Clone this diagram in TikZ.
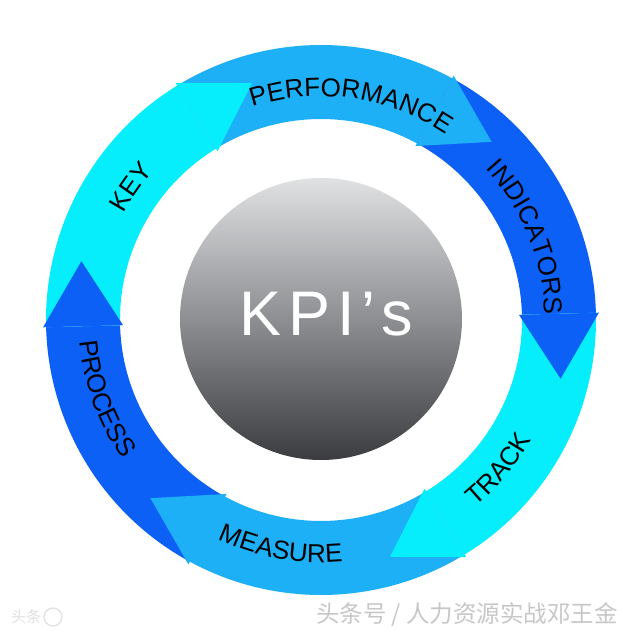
\documentclass[tikz,border=0pt]{standalone}
\usepackage{fontspec}
\setmainfont{Liberation Sans}
\newfontfamily\cjkfont{Noto Sans CJK SC}
\usetikzlibrary{decorations.text,calc}
\definecolor{dkblue}{HTML}{0C60F5}
\definecolor{mdblue}{HTML}{1EB0F6}
\definecolor{cyanb}{HTML}{06EEFB}
\newcommand\lblfont{\fontsize{26pt}{26pt}\selectfont}
\newcommand\ringbody[3]{\fill[#3] (#1:275pt) arc[start angle=#1, end angle=#2, radius=275pt] -- (#2:201pt) arc[start angle=#2, end angle=#1, radius=201pt] -- cycle;}
\newcommand\ringhead[2]{\fill[#2] (#1:198pt) -- (#1:278pt) -- ($(#1:238pt)+(#1-90:65pt)$) -- cycle;}
\newcommand\toplabel[2]{\path[decorate, decoration={text along path, text={|\lblfont|#2}, text align=center}] (#1+40:223.7pt) arc[start angle=#1+40, end angle=#1-40, radius=223.7pt];}
\newcommand\botlabel[2]{\path[decorate, decoration={text along path, text={|\lblfont|#2}, text align=center}] (#1-40:242.3pt) arc[start angle=#1-40, end angle=#1+40, radius=242.3pt];}
\begin{document}
\begin{tikzpicture}[x=1pt,y=1pt]
\useasboundingbox (-321,-320) rectangle (319,320);
\fill[white] (-321,-320) rectangle (319,320);
% ring bodies
\ringbody{241.5}{181.5}{dkblue}
\ringbody{181.5}{121.5}{cyanb}
\ringbody{121.5}{61.5}{mdblue}
\ringbody{61.5}{1.5}{dkblue}
\ringbody{1.5}{-58.5}{cyanb}
\ringbody{-58.5}{-118.5}{mdblue}
% arrow heads
\ringhead{181.5}{dkblue}
\ringhead{121.5}{cyanb}
\ringhead{61.5}{mdblue}
\ringhead{1.5}{dkblue}
\ringhead{-58.5}{cyanb}
\ringhead{-118.5}{mdblue}
% labels
\toplabel{145}{KEY}
\toplabel{82}{PERFORMANCE}
\toplabel{22}{INDICATORS}
\botlabel{-40}{TRACK}
\botlabel{-100}{MEASURE}
\botlabel{200}{PROCESS}
% hub
\node[circle, minimum size=282pt, inner sep=0pt, top color={rgb,255:red,224;green,225;blue,227}, middle color={rgb,255:red,148;green,150;blue,153}, bottom color={rgb,255:red,58;green,60;blue,64}] (hub) at (0,1) {};
\node[anchor=base west, inner sep=0pt, text=white, font=\fontsize{63pt}{63pt}\selectfont\addfontfeature{LetterSpace=11}] (kpi) at (-82,-16) {KPI’s};
% watermark
\node[anchor=west, inner sep=0pt, text=black!22, font=\cjkfont\fontsize{23.5pt}{23.5pt}\selectfont] (wm) at (-5,-295) {头条号 / 人力资源实战邓王金};
\node[anchor=west, inner sep=0pt, text=black!12, font=\cjkfont\fontsize{15pt}{15pt}\selectfont] (logo) at (-310,-297) {头条};
\node[circle, draw=black!12, line width=1.2pt, minimum size=18pt, inner sep=0pt] (logoc) at (-268,-297) {};
\end{tikzpicture}
\end{document}
